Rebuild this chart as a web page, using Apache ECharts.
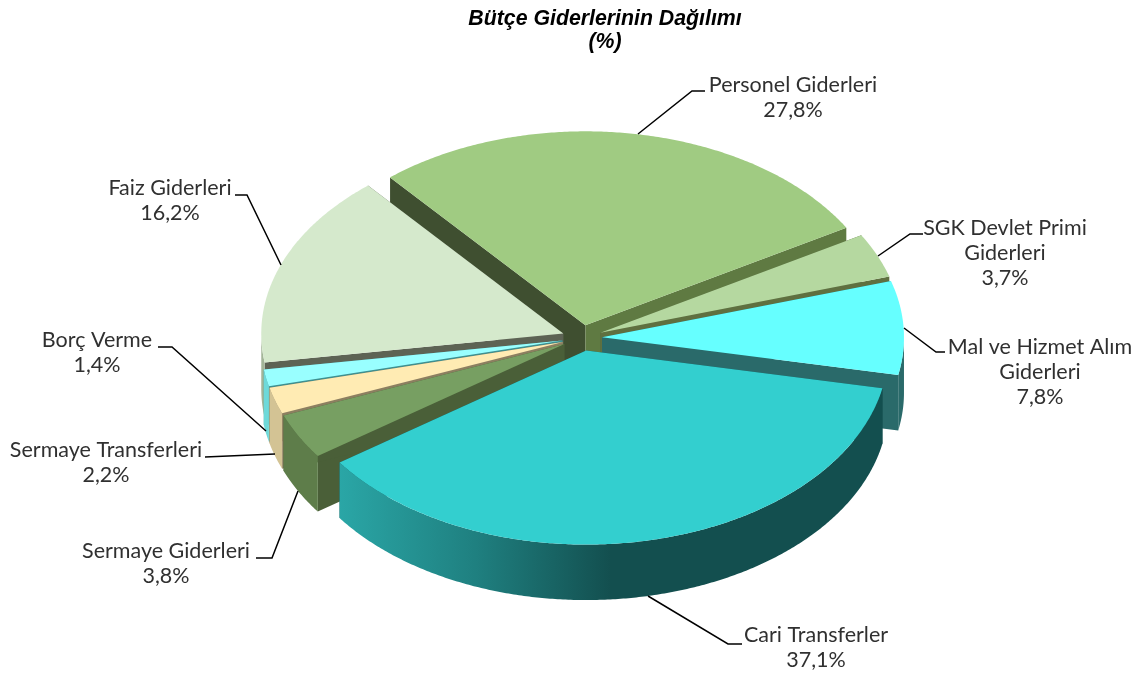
<!DOCTYPE html>
<html><head><meta charset="utf-8">
<style>html,body{margin:0;padding:0;background:#fff}#c{width:1140px;height:679px}</style>
<script src="https://cdn.jsdelivr.net/npm/echarts@6/dist/echarts.min.js"></script>
</head><body><div id="c"></div>
<script>
const categories = ['Personel Giderleri','SGK Devlet Primi\nGiderleri','Mal ve Hizmet Alım\nGiderleri','Cari Transferler','Sermaye Giderleri','Sermaye Transferleri','Borç Verme','Faiz Giderleri'];
const values = [27.8,3.7,7.8,37.1,3.8,2.2,1.4,16.2];

// styling and layout
const topColors  = ['#A0CB82','#B5D8A0','#66FFFF','#33CFCF','#779F62','#FFEBB3','#99FFFF','#D5E9CC'];
const startFace  = ['#3F4F30','#55683C','#2A6A6A','#134F4F','#4A5F38','#8C7F60','#3F8F8F','#5D6354'];
const endFace    = ['#5F7A42','#5F7040','#2A6A6A','#134F4F','#4A5F38','#8C7F60','#3F8F8F','#5D6354'];
const wallColors = ['#5F7A42','#5F7040','#2A6A6A',null,'#5E7D4A','#D3C394','#6ED9D9','#A3B598'];
const paintOrder = [0,1,2,7,6,5,4,3];
const labelPos = [[793,97.5],[1005,253.5],[1040,372.5],[816,647.5],[166,563.5],[106,462.5],[97,352.5],[170,200.5]];
const leaders = [
  [[638,134],[692,91],[705,91]],
  [[878,256],[910,234],[923,234]],
  [[904,328],[936,352],[945,352]],
  [[648,596],[728,644],[742,644]],
  [[298,491],[272,558],[256,558]],
  [[275,454],[205,457]],
  [[266,431],[172,347],[158,347]],
  [[281,265],[247,195],[235,195]]
];
const CX=582, CY=338, RX=302, RY=194, DEPTH=55.5, EXPLODE=20, START=-40.3;
const total = values.reduce((a,b)=>a+b,0);
const rad = d => d*Math.PI/180;

function renderSlice(params, api){
  const i = params.dataIndex;
  const v = api.value(1);
  let before = 0; for(let k=0;k<i;k++) before += values[k];
  const a0 = START + before/total*360, a1 = a0 + v/total*360, mid=(a0+a1)/2;
  const ox = EXPLODE*Math.sin(rad(mid)), oy = -EXPLODE*Math.cos(rad(mid))*RY/RX;
  const apex = dz => [CX+ox, CY+oy+dz];
  const rim = (a,dz) => [CX+ox+RX*Math.sin(rad(a)), CY+oy-RY*Math.cos(rad(a))+dz];
  const arc = (s,e,dz) => { const n=Math.max(2,Math.ceil(Math.abs(e-s)/0.5)), p=[];
    for(let k=0;k<=n;k++) p.push(rim(s+(e-s)*k/n,dz)); return p; };
  const base = paintOrder.indexOf(i)*10;
  const poly = (pts,fill,z) => ({type:'polygon',z2:base+z,shape:{points:pts},style:{fill:fill}});
  const kids = [];
  kids.push(poly([apex(0),rim(a0,0),rim(a0,DEPTH),apex(DEPTH)],startFace[i],0));
  kids.push(poly([apex(0),rim(a1,0),rim(a1,DEPTH),apex(DEPTH)],endFace[i],1));
  // outer wall: only the front half of the rim is visible
  const s=Math.max(a0,90), e=Math.min(a1,270);
  if(e>s){
    const wall=arc(s,e,0).concat(arc(e,s,DEPTH));
    const fill = wallColors[i] || new echarts.graphic.LinearGradient(0,0,1,0,[
      {offset:0,color:'#2AA6A6'},{offset:0.25,color:'#1F8080'},{offset:0.5,color:'#134F4F'},{offset:1,color:'#134F4F'}]);
    kids.push(poly(wall,fill,2));
  }
  kids.push(poly([apex(0)].concat(arc(a0,a1,0)),topColors[i],3));
  // leader and label
  kids.push({type:'polyline',z2:500,shape:{points:leaders[i]},style:{fill:null,stroke:'#000',lineWidth:1.5}});
  kids.push({type:'text',z2:501,x:labelPos[i][0],y:labelPos[i][1],style:{
    text:categories[i]+'\n'+String(v).replace('.',',')+'%',
    fill:'#303030',font:'21.5px Lato',lineHeight:25,align:'center',verticalAlign:'middle'}});
  return {type:'group',children:kids};
}

const chart = echarts.init(document.getElementById('c'));
chart.setOption({
  animation:false,
  backgroundColor:'#fff',
  title:{text:'Bütçe Giderlerinin Dağılımı\n(%)',left:600,top:2,textAlign:'center',
    textStyle:{fontFamily:'Liberation Sans',fontStyle:'italic',fontWeight:'bold',fontSize:21.3,lineHeight:23.5,color:'#000'}},
  series:[{type:'custom',coordinateSystem:'none',renderItem:renderSlice,silent:true,
    data:values.map((v,i)=>[i,v])}]
});
</script></body></html>
